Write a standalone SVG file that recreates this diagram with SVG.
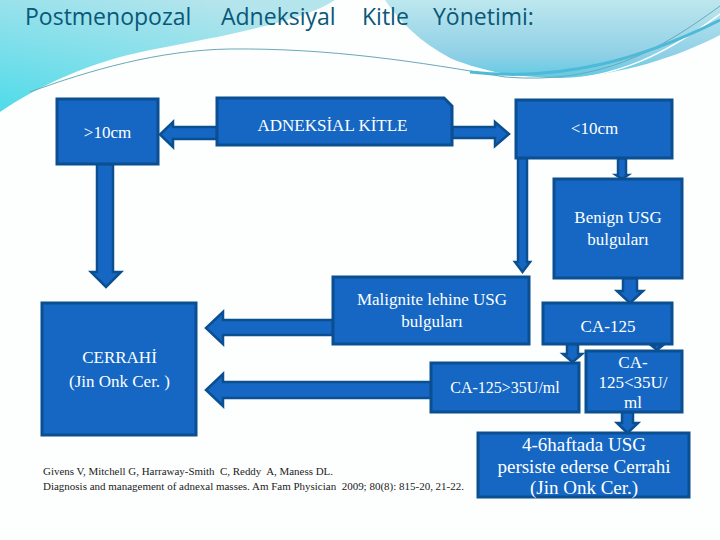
<svg xmlns="http://www.w3.org/2000/svg" width="720" height="540" viewBox="0 0 720 540">
<defs>
<linearGradient id="gL" x1="0" y1="1" x2="0.6" y2="0">
<stop offset="0" stop-color="#4fdbe9"/>
<stop offset="1" stop-color="#b4e4ec"/>
</linearGradient>
<linearGradient id="gR" x1="0" y1="0" x2="0" y2="1">
<stop offset="0" stop-color="#bde7ee"/>
<stop offset="0.7" stop-color="#8fd0e6"/>
<stop offset="1" stop-color="#5fcbe3"/>
</linearGradient>
<style>
.box{fill:#1567c3;stroke:#0b4f91;stroke-width:3}
.arr{fill:#1567c3;stroke:#0b4f91;stroke-width:2.5;stroke-linejoin:miter}
.t{font-family:"Liberation Serif","DejaVu Serif",serif;fill:#ffffff;font-size:17px;text-anchor:middle}
.cite{font-family:"Liberation Serif","DejaVu Serif",serif;fill:#222222;font-size:10px;white-space:pre}
.title{font-family:"Open Sans","DejaVu Sans",sans-serif;fill:#0a5878;font-size:23px}
</style>
</defs>
<rect width="720" height="540" fill="#fdfefe"/>
<g id="background">
<path d="M0,0 H335 C305,20 235,34 150,50 C90,62 40,85 0,112 Z" fill="url(#gL)"/>
<path d="M385,0 H720 V35 C680,56 620,76 560,78 C515,78 478,70 450,58 C420,42 400,22 385,0 Z" fill="url(#gR)"/>
<path d="M30,92 C90,70 160,50 230,49 C330,48 420,62 505,77 C600,85 660,50 720,6" fill="none" stroke="#6aa9b8" stroke-width="1"/>
<path d="M40,95 C100,73 170,54 235,53 C335,52 425,66 508,80 C605,88 665,55 720,14" fill="none" stroke="#ffffff" stroke-width="1.5"/>
<path d="M470,72 C560,82 640,60 720,20" fill="none" stroke="#4fb9d8" stroke-width="3"/>
<text class="title" y="25"><tspan x="25">Postmenopozal</tspan><tspan x="221">Adneksiyal</tspan><tspan x="362">Kitle</tspan><tspan x="433">Yönetimi:</tspan></text>
</g>
<g id="connectors">
<polygon class="arr" points="217,127 173,127 173,122 160,134.5 173,147 173,139 217,139"/>
<polygon class="arr" points="452,127 495,127 495,122 509,134 495,146 495,138 452,138"/>
<polygon class="arr" points="518,158 518,262 515,262 522.5,272 530,262 527,262 527,158"/>
<polygon class="arr" points="618,158 618,175 616,175 622,179 628,175 626,175 626,158"/>
<polygon class="arr" points="97,164 97,272 91,272 106,287 121,272 113,272 113,164"/>
<polygon class="arr" points="333,320 223,320 223,312 206,328 223,344 223,335 333,335"/>
<polygon class="arr" points="431,382 223,382 223,374 206,390 223,406 223,398 431,398"/>
<polygon class="arr" points="623,278 623,291 617,291 630,303 643,291 637,291 637,278"/>
<polygon class="arr" points="567,344 567,354 563,354 572.5,362 582,354 578,354 578,344"/>
<polygon class="arr" points="655,344 655,346 652,346 657,350 662,346 659,346 659,344"/>
<polygon class="arr" points="622,412 622,423 617,423 627.5,433 638,423 633,423 633,412"/>
</g>
<g id="n-gt10">
<rect class="box" x="57" y="99" width="101" height="65"/>
<text class="t" x="107.5" y="138">&gt;10cm</text>
</g>
<g id="n-adneksial">
<path class="box" d="M217,98 H444 L452,106 V145 H217 Z"/>
<text class="t" x="332.5" y="131">ADNEKSİAL KİTLE</text>
</g>
<g id="n-lt10">
<rect class="box" x="516" y="100" width="156" height="58"/>
<text class="t" x="594.5" y="134">&lt;10cm</text>
</g>
<g id="n-benign">
<rect class="box" x="554" y="179" width="128" height="99"/>
<text class="t" x="618" y="223">Benign USG</text>
<text class="t" x="618" y="245">bulguları</text>
</g>
<g id="n-malignite">
<rect class="box" x="333" y="277" width="196" height="67"/>
<text class="t" x="432" y="305">Malignite lehine USG</text>
<text class="t" x="432" y="327">bulguları</text>
</g>
<g id="n-ca125">
<rect class="box" x="543" y="303" width="129" height="41"/>
<text class="t" x="608" y="332">CA-125</text>
</g>
<g id="n-cerrahi">
<rect class="box" x="42" y="303" width="154" height="132"/>
<text class="t" x="119.5" y="363">CERRAHİ</text>
<text class="t" x="119.5" y="387" style="white-space:pre">(Jin Onk Cer. )</text>
</g>
<g id="n-gt35">
<rect class="box" x="431" y="363" width="148" height="49"/>
<text class="t" x="505" y="393" style="font-size:16px">CA-125&gt;35U/ml</text>
</g>
<g id="n-lt35">
<rect class="box" x="586" y="351" width="96" height="61"/>
<text class="t" x="633" y="368">CA-</text>
<text class="t" x="633" y="388">125&lt;35U/</text>
<text class="t" x="633" y="408">ml</text>
</g>
<g id="n-followup">
<rect class="box" x="478" y="433" width="211" height="64"/>
<text class="t" x="584" y="451" style="font-size:19px">4-6haftada USG</text>
<text class="t" x="584" y="473" style="font-size:19px">persiste ederse Cerrahi</text>
<text class="t" x="584" y="494" style="font-size:19px">(Jin Onk Cer.)</text>
</g>
<g id="citation">
<text class="cite" x="43" y="475" textLength="290" lengthAdjust="spacingAndGlyphs">Givens V, Mitchell G, Harraway-Smith  C, Reddy  A, Maness DL.</text>
<text class="cite" x="43" y="490" textLength="421" lengthAdjust="spacingAndGlyphs">Diagnosis and management of adnexal masses. Am Fam Physician  2009; 80(8): 815-20, 21-22.</text>
</g>
</svg>
